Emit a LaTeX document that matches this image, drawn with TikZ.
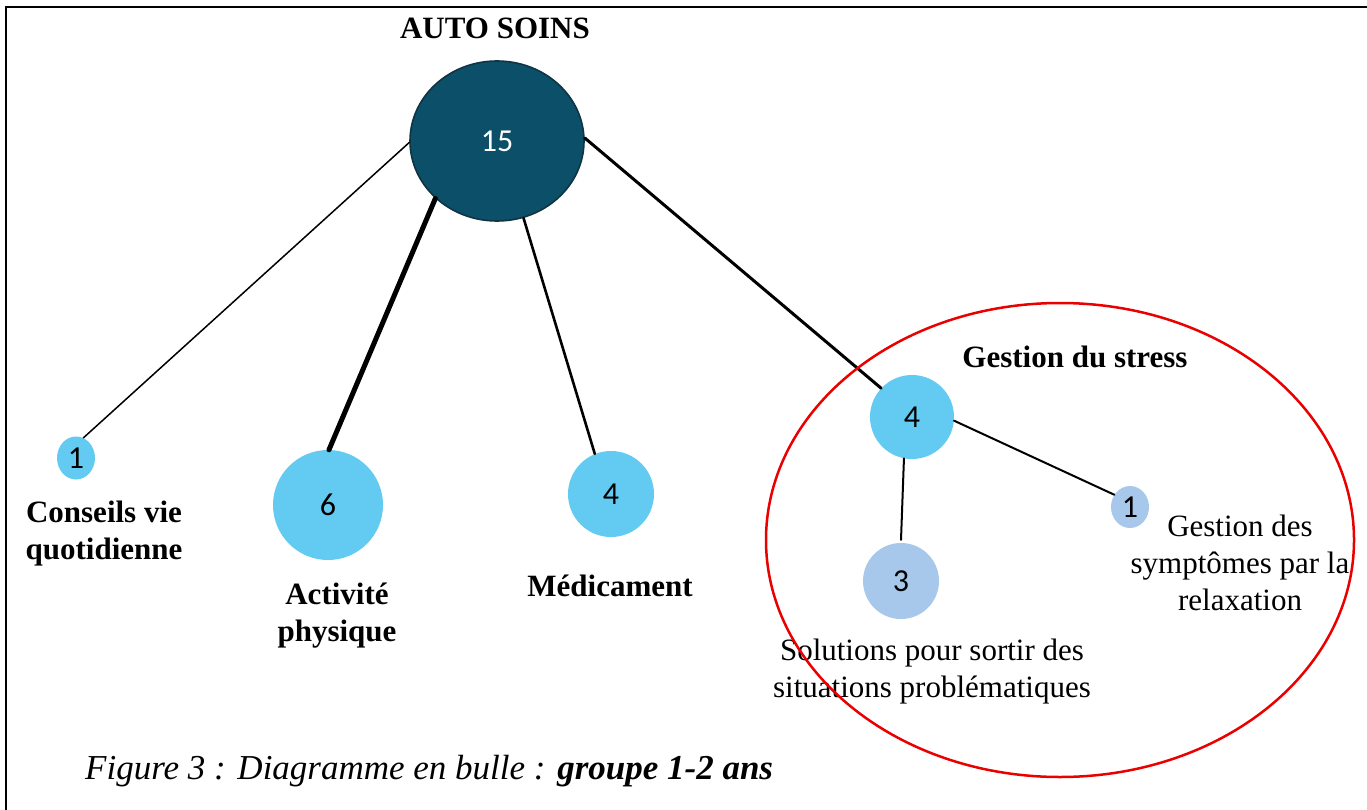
\documentclass[tikz,border=0pt]{standalone}
\usepackage{fontspec}
\setmainfont{Liberation Serif}
\newfontfamily\numfont{Carlito}
\usetikzlibrary{shapes.geometric}

\definecolor{rootfill}{RGB}{11,79,104}
\definecolor{rootedge}{RGB}{16,52,68}
\definecolor{bubblue}{RGB}{99,203,241}
\definecolor{bublight}{RGB}{167,200,234}
\definecolor{ringred}{RGB}{235,0,0}

\tikzset{
  bubble/.style={shape=ellipse, inner sep=0pt, font=\numfont\fontsize{32}{36}\selectfont},
  darkbubble/.style={bubble, fill=rootfill, draw=rootedge, line width=1.6pt, text=white},
  bluebubble/.style={bubble, fill=bubblue},
  lightbubble/.style={bubble, fill=bublight},
  boldlab/.style={inner sep=0pt, align=center, font=\bfseries\fontsize{31}{37}\selectfont},
  plainlab/.style={inner sep=0pt, align=center, font=\fontsize{31}{37}\selectfont},
  link/.style={draw=black, line cap=round}
}

\begin{document}
\begin{tikzpicture}[x=1pt, y=-1pt]
\useasboundingbox (0,0) rectangle (1367,810);
\fill[white] (0,0) rectangle (1367,810);

% page frame (left and top edges)
\draw[line width=2pt] (6,810) -- (6,7) -- (1367,7);

% title
\node[boldlab] (title) at (495,28) {AUTO SOINS};

% bubbles
\node[darkbubble, minimum width=174pt, minimum height=160pt] (root) at (497,141) {15};
\node[bluebubble, minimum width=38pt, minimum height=43pt] (conseils) at (76,458) {1};
\node[bluebubble, minimum width=110pt, minimum height=110pt] (activite) at (328,505) {6};
\node[bluebubble, minimum width=86pt, minimum height=86pt] (medic) at (611,494) {4};
\node[bluebubble, minimum width=84pt, minimum height=84pt] (stress) at (912,417) {4};
\node[lightbubble, minimum width=38pt, minimum height=42pt] (relax) at (1130,507) {1};
\node[lightbubble, minimum width=76pt, minimum height=76pt] (solut) at (901,581) {3};

% labels
\node[boldlab] (conseilsLab) at (104,534) {Conseils vie\\quotidienne};
\node[boldlab] (activiteLab) at (337,616) {Activité\\physique};
\node[boldlab] (medicLab) at (610,586) {Médicament};
\node[boldlab] (stressLab) at (1075,357) {Gestion du stress};
\node[plainlab] (relaxLab) at (1240,563) {Gestion des\\symptômes par la\\relaxation};
\node[plainlab] (solutLab) at (932,672) {Solutions pour sortir des\\situations problématiques};

% connectors
\draw[link, line width=1.5pt] (root.181) -- (conseils.70);
\draw[link, line width=5pt] (root.223) -- (activite.89);
\draw[link, line width=2.6pt] (root.289) -- (medic.112);
\draw[link, line width=3pt] (root.2) -- (stress.137);
\draw[link, line width=2pt] (stress.355) -- (relax.142);
\draw[link, line width=2pt] (stress.259) -- ([yshift=3pt]solut.north);

% highlighted group
\node[draw=ringred, line width=2.5pt, shape=ellipse, inner sep=0pt,
      minimum width=588pt, minimum height=474pt] (ring) at (1060,540) {};

% caption
\node[anchor=base west, inner sep=0pt, font=\itshape\fontsize{35}{40}\selectfont]
  (caption) at (85,779) {Figure 3 : Diagramme en bulle : \textbf{groupe 1-2 ans}};
\end{tikzpicture}
\end{document}
